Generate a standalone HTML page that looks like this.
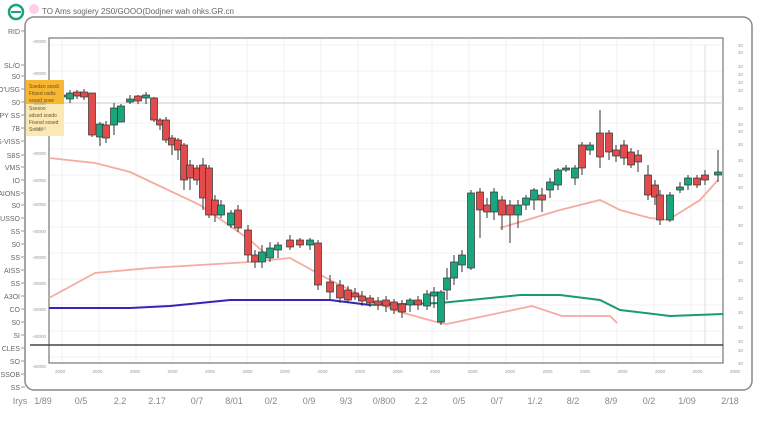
<!DOCTYPE html><html><head><meta charset="utf-8"><style>
body{margin:0;background:#fff;width:760px;height:426px;overflow:hidden;font-family:"Liberation Sans",sans-serif}
</style></head><body>
<svg id="s" width="760" height="426" xmlns="http://www.w3.org/2000/svg" font-family="Liberation Sans, sans-serif">
<rect x="25" y="17" width="727" height="373" rx="9" fill="#fff" stroke="#888" stroke-width="1.5"/>
<g id="grid" stroke="#f0f0f0" stroke-width="1"></g>
<rect x="49" y="38" width="674" height="325" fill="none" stroke="#777" stroke-width="1.2"/>
<line x1="49" y1="103" x2="723" y2="103" stroke="#ccc"/>
<line x1="705" y1="45" x2="705" y2="345" stroke="#ddd"/>
<line x1="30" y1="345" x2="723" y2="345" stroke="#444" stroke-width="1.5"/>
<circle cx="16" cy="12" r="7" fill="none" stroke="#1aa37a" stroke-width="2.5"/>
<line x1="11" y1="12" x2="21" y2="12" stroke="#1aa37a" stroke-width="2"/>
<circle cx="34" cy="9" r="5" fill="#fbd" opacity=".7"/>
<text x="42" y="14" font-size="8" fill="#666">TO Ams sogiery 2S0/GOOO(Dodjner wah ohks.GR.cn</text>
<polyline fill="none" stroke="#f5aba0" stroke-width="1.8" points="49,158 95,163 130,172 200,205 250,240 270,258"/>
<polyline fill="none" stroke="#f5aba0" stroke-width="1.8" points="49,298 95,273 150,268 250,262 290,258 330,280 370,300 400,312 440,323 447,324 532,306 562,316 610,316 617,323"/>
<polyline fill="none" stroke="#f5aba0" stroke-width="1.8" points="500,228 520,222 560,210 600,200 620,210 650,218 668,220 700,200 718,180"/>
<polyline fill="none" stroke="#3a22b8" stroke-width="2" points="49,308 130,308 170,306 230,300 330,300 370,305"/>
<polyline fill="none" stroke="#1a9a70" stroke-width="2" points="370,305 440,303 520,295 560,295 600,300 620,310 670,316 723,314"/>
<g id="c"></g>
<rect x="26" y="80" width="38" height="24" fill="#f7b733"/>
<rect x="26" y="104" width="38" height="32" fill="#fbe9b5"/>
<g font-size="5" fill="#6a5020"><text x="29" y="88">Ssedzo sosdi</text><text x="29" y="95">Fitsed osdis</text><text x="29" y="102">sssed sose</text><text x="29" y="110">Ssesoo</text><text x="29" y="117">sdssd sosdo</text><text x="29" y="124">Fisesd sosed</text><text x="29" y="131">Ssods</text></g>
<g id="t" fill="#666"></g>
</svg>
<script>
var ns="http://www.w3.org/2000/svg",S=function(p,t,a,x){var e=document.createElementNS(ns,t);for(var k in a)e.setAttribute(k,a[k]);if(x)e.textContent=x;document.getElementById(p).appendChild(e);};
for(var x=62;x<723;x+=37)S("grid","line",{x1:x,y1:38,x2:x,y2:363});
for(var y=45;y<363;y+=26)S("grid","line",{x1:49,y1:y,x2:723,y2:y});
var d=[[62,97,95,92,100],[70,99,93,90,103],[77,92,96,90,99],[84,92,97,89,100],[92,93,135,93,137],[100,137,124,122,146],[106,125,138,121,143],[114,125,108,103,135],[121,122,106,104,122],[130,102,99,95,104],[138,96,101,95,104],[146,98,95,92,104],[154,98,120,97,122],[160,120,125,118,130],[166,120,140,117,143],[172,138,145,135,155],[178,140,150,138,160],[184,145,180,143,190],[190,165,178,160,190],[197,168,180,165,185],[203,165,198,158,210],[209,168,215,165,218],[215,200,215,195,222],[221,215,205,200,218],[231,225,213,210,228],[238,210,228,205,232],[248,230,255,225,262],[255,255,262,250,268],[262,262,252,245,268],[270,258,248,242,262],[278,250,245,242,258],[290,240,247,235,250],[300,240,245,238,248],[310,245,240,238,250],[318,243,285,240,290],[330,282,292,275,300],[340,285,298,280,303],[348,290,300,286,303],[355,293,297,288,300],[362,296,301,291,306],[370,298,303,295,307],[378,301,305,297,310],[386,300,306,296,312],[394,302,310,299,314],[402,304,312,300,318],[410,305,300,298,312],[418,300,305,296,310],[427,306,294,290,310],[434,296,292,287,308],[441,322,292,290,325],[447,290,278,268,300],[454,278,262,255,285],[462,265,255,250,272],[471,268,193,190,270],[480,192,210,188,238],[487,205,212,198,218],[494,212,192,188,220],[502,200,215,196,230],[510,205,215,200,243],[518,215,205,200,228],[526,205,198,195,210],[534,200,190,188,210],[542,195,200,188,212],[550,190,182,178,198],[558,185,170,168,190],[566,170,168,165,172],[575,178,168,165,185],[582,145,168,142,175],[590,150,145,142,155],[600,133,157,110,168],[609,133,152,130,160],[616,150,156,145,162],[624,145,158,140,165],[631,152,165,148,168],[638,155,162,150,172],[648,175,195,165,200],[655,185,197,180,205],[660,195,220,190,225],[670,220,195,192,222],[680,190,187,182,193],[688,185,178,175,190],[697,178,185,175,188],[705,175,180,170,185],[718,175,172,150,182]];
d.forEach(function(c){var g=c[2]<c[1],col=g?"#1ba57c":"#e24b4b",t=Math.min(c[1],c[2]),h=Math.max(2,Math.abs(c[2]-c[1]));S("c","line",{x1:c[0],y1:c[3],x2:c[0],y2:c[4],stroke:"#333","stroke-width":1});S("c","rect",{x:c[0]-3.5,y:t,width:7,height:h,fill:col,stroke:"#333","stroke-width":0.7});});
var L=[[31,"RID"],[65,"SL/O"],[76,"S0"],[89,"O'USG"],[102,"S0"],[115,"PPY SS"],[128,"7B"],[141,"S-VISS"],[155,"S8S"],[167,"VMS"],[180,"IO"],[193,"AIONS"],[205,"S0"],[218,"SUSSO"],[231,"SS"],[244,"S0"],[257,"SS"],[270,"AISS"],[283,"SS"],[296,"A3OI"],[309,"CO"],[322,"S0"],[335,"SI"],[348,"CLES"],[361,"SO"],[374,"SSOB"],[387,"SS"]];
L.forEach(function(l){S("t","text",{x:20,y:l[0]+3,"font-size":7,"text-anchor":"end"},l[1]);S("t","line",{x1:21,y1:l[0],x2:25,y2:l[0],stroke:"#999"});});
[41,73,103,128,153,180,204,231,257,283,309,336,366].forEach(function(y){S("t","text",{x:46,y:y+2,"font-size":4.5,"text-anchor":"end",fill:"#999"},"-40000");});
[45,52,66,74,82,90,108,124,131,144,160,175,187,207,225,243,262,280,298,312,327,341,350,363].forEach(function(y){S("t","text",{x:738,y:y+2,"font-size":4.5,fill:"#999"},"30");});
var bx=[["Irys",20],["1/89",43],["0/5",81],["2.2",120],["2.17",157],["0/7",197],["8/01",234],["0/2",271],["0/9",309],["9/3",346],["0/800",384],["2.2",421],["0/5",459],["0/7",497],["1/.2",535],["8/2",573],["8/9",611],["0/2",649],["1/09",687],["2/18",730]];
bx.forEach(function(b){S("t","text",{x:b[1],y:404,"font-size":9,"text-anchor":"middle",fill:"#888"},b[0]);});
for(var i=0;i<19;i++){S("t","text",{x:60+i*37.5,y:373,"font-size":4.5,"text-anchor":"middle",fill:"#999"},"2000");}
</script>
</body></html>
